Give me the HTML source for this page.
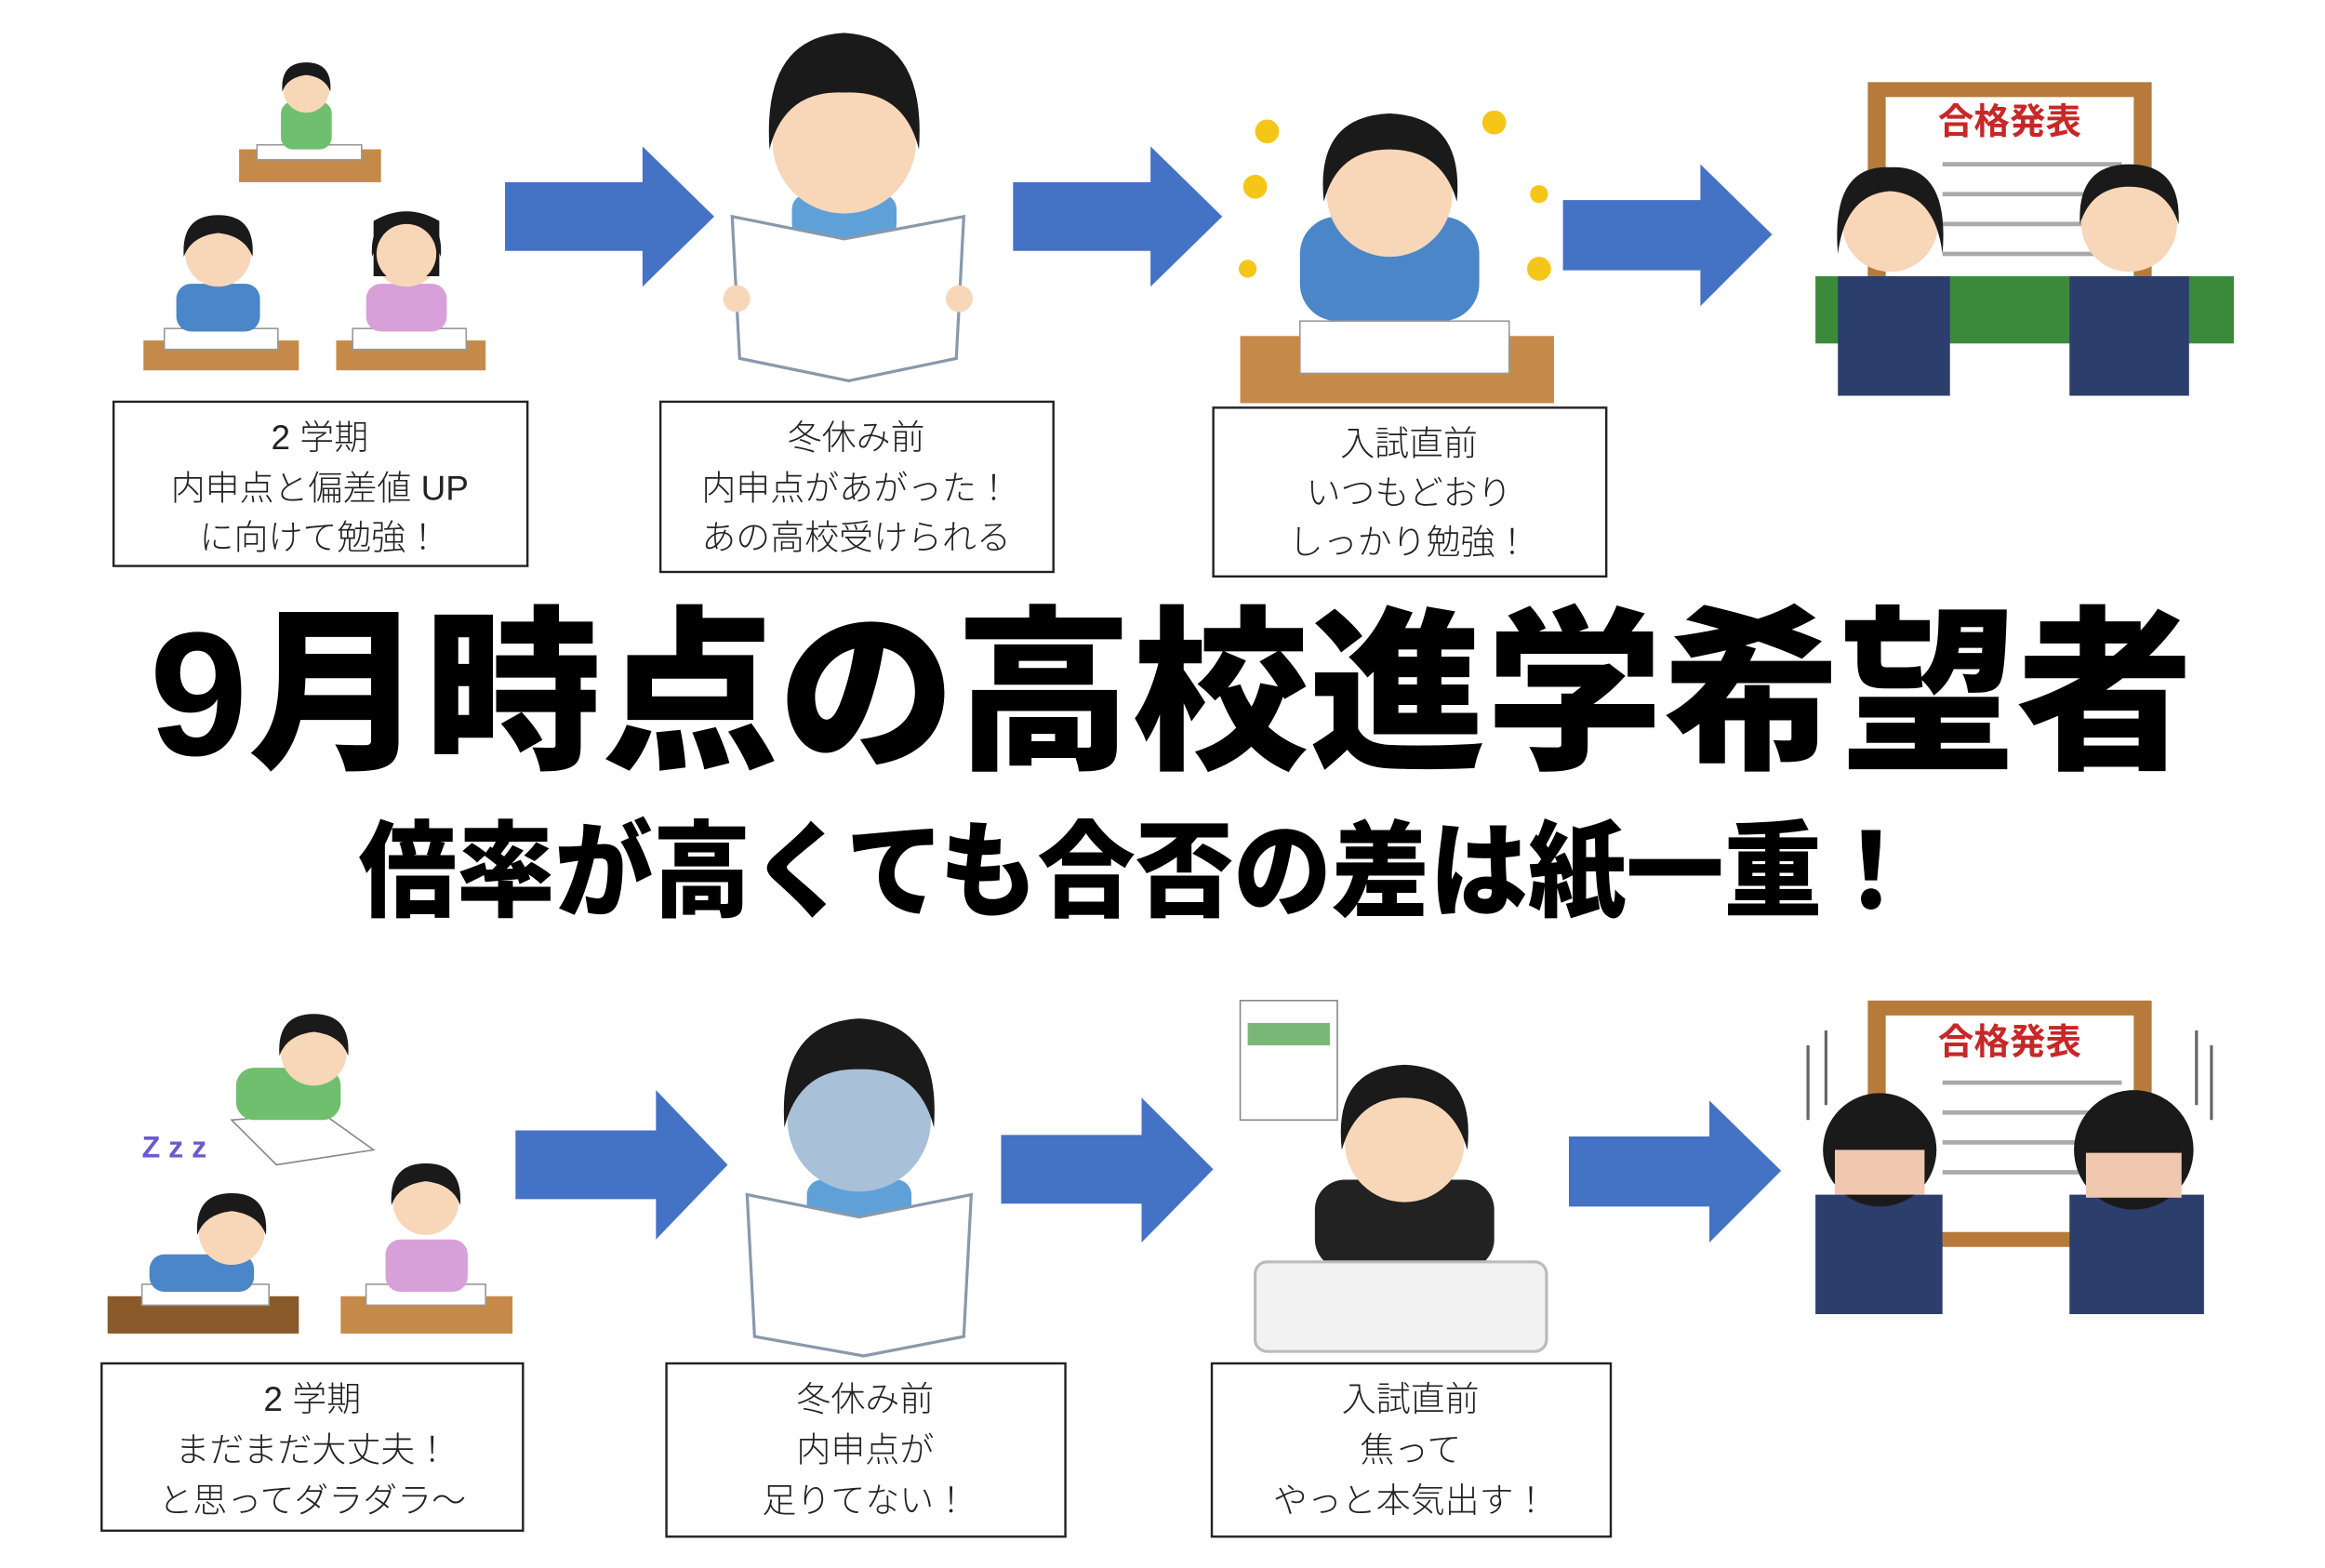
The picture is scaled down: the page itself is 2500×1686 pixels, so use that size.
<!DOCTYPE html>
<html><head><meta charset="utf-8"><style>
html,body{margin:0;padding:0;background:#fff;width:2500px;height:1686px;overflow:hidden}
svg{display:block}
.bt{font-family:"Liberation Sans","Noto Sans CJK JP",sans-serif;font-size:23px;fill:#222;text-anchor:middle;dominant-baseline:central;font-weight:300}
.tt{font-family:"Liberation Sans","Noto Sans CJK JP",sans-serif;font-weight:900;fill:#000;dominant-baseline:central}
</style></head><body>
<svg width="2500" height="1686" viewBox="0 0 1556 1050" preserveAspectRatio="none" xmlns="http://www.w3.org/2000/svg">
<defs>
<g id="kid"><!-- head at 0,0 -->
<circle cx="0" cy="0" r="22" fill="#f8d6b8"/>
<path d="M-23,2 Q-25,-26 0,-26 Q25,-26 23,2 Q18,-12 0,-14 Q-18,-12 -23,2Z" fill="#1a1a1a"/>
</g>
</defs>
<rect width="1556" height="1050" fill="#fff"/>

<!-- arrows -->
<g fill="#4472c4">
<path d="M338,122 H430 V98 L478,145 L430,192 V168 H338Z"/>
<path d="M678,122 H770 V98 L818,145 L770,192 V168 H678Z"/>
<path d="M1046,134 H1138 V110 L1186,157 L1138,205 V181 H1046Z"/>
<path d="M345,757 H439 V730 L487,780 L439,830 V803 H345Z"/>
<path d="M670,760 H764 V735 L812,783 L764,832 V806 H670Z"/>
<path d="M1050,761 H1144 V737 L1192,784 L1144,832 V808 H1050Z"/>
</g>

<!-- TOP illustrations -->
<!-- group1 -->
<rect x="160" y="100" width="95" height="22" fill="#c58a4a"/><rect x="172" y="97" width="70" height="10" fill="#fff" stroke="#999"/>
<rect x="188" y="68" width="34" height="32" rx="8" fill="#6fbf6f"/><use href="#kid" transform="translate(205,60) scale(0.7)"/>
<rect x="96" y="228" width="104" height="20" fill="#c58a4a"/><rect x="110" y="220" width="76" height="14" fill="#fff" stroke="#999"/>
<rect x="118" y="190" width="56" height="32" rx="10" fill="#4a86c8"/><use href="#kid" transform="translate(146,170)"/>
<rect x="225" y="228" width="100" height="20" fill="#c58a4a"/><rect x="236" y="220" width="76" height="14" fill="#fff" stroke="#999"/>
<rect x="245" y="190" width="54" height="32" rx="10" fill="#d8a0d8"/><use href="#kid" transform="translate(272,170)"/>
<path d="M250,148 Q272,135 294,148 V185 H250Z" fill="#1a1a1a"/><circle cx="272" cy="170" r="20" fill="#f8d6b8"/>
<!-- boy reading -->
<rect x="530" y="130" width="70" height="30" rx="10" fill="#5fa0d8"/>
<circle cx="565" cy="95" r="48" fill="#f8d6b8"/>
<path d="M515,100 Q510,25 565,22 Q620,25 615,100 Q605,60 565,62 Q525,60 515,100Z" fill="#1a1a1a"/>
<path d="M490,145 L565,160 L645,145 L640,240 L568,255 L495,240Z" fill="#fff" stroke="#8899aa" stroke-width="2"/>
<circle cx="493" cy="200" r="9" fill="#f8d6b8"/><circle cx="642" cy="200" r="9" fill="#f8d6b8"/>
<!-- boy studying -->
<rect x="870" y="145" width="120" height="70" rx="25" fill="#4a86c8"/>
<circle cx="930" cy="130" r="42" fill="#f8d6b8"/>
<path d="M886,135 Q880,78 930,76 Q980,78 975,135 Q965,100 930,100 Q895,100 886,135Z" fill="#1a1a1a"/>
<rect x="830" y="225" width="210" height="45" fill="#c58a4a"/><rect x="870" y="215" width="140" height="35" fill="#fff" stroke="#999"/>
<g fill="#f5c518"><circle cx="848" cy="88" r="8"/><circle cx="1000" cy="82" r="8"/><circle cx="840" cy="125" r="8"/><circle cx="1030" cy="130" r="6"/><circle cx="1030" cy="180" r="8"/><circle cx="835" cy="180" r="6"/></g>
<!-- board + students -->
<rect x="1250" y="55" width="190" height="160" fill="#b77a3a"/><rect x="1262" y="65" width="166" height="140" fill="#fff"/>
<text x="1345" y="82" font-family="Liberation Sans,Noto Sans CJK JP,sans-serif" font-size="24" font-weight="700" fill="#c62828" text-anchor="middle" dominant-baseline="central">合格発表</text>
<g stroke="#aaa" stroke-width="3"><line x1="1300" y1="110" x2="1420" y2="110"/><line x1="1300" y1="130" x2="1420" y2="130"/><line x1="1300" y1="150" x2="1420" y2="150"/><line x1="1300" y1="170" x2="1420" y2="170"/><line x1="1300" y1="190" x2="1420" y2="190"/></g>
<rect x="1215" y="185" width="280" height="45" fill="#3a8a3a"/>
<rect x="1230" y="185" width="75" height="80" fill="#2c3e6b"/><circle cx="1265" cy="150" r="32" fill="#f8d6b8"/>
<path d="M1230,170 Q1225,110 1265,112 Q1305,110 1300,170 Q1295,130 1265,128 Q1235,130 1230,170Z" fill="#1a1a1a"/>
<rect x="1385" y="185" width="80" height="80" fill="#2c3e6b"/><circle cx="1425" cy="150" r="32" fill="#f8d6b8"/>
<path d="M1392,150 Q1390,110 1425,110 Q1460,110 1458,150 Q1450,125 1425,125 Q1400,125 1392,150Z" fill="#1a1a1a"/>

<!-- BOTTOM illustrations -->
<path d="M155,750 L215,745 L250,770 L185,780Z" fill="#fff" stroke="#888"/>
<rect x="158" y="715" width="70" height="35" rx="12" fill="#6fbf6f"/><use href="#kid" transform="translate(210,705)"/>
<rect x="72" y="868" width="128" height="25" fill="#8a5a2a"/><rect x="95" y="860" width="85" height="14" fill="#fff" stroke="#999"/>
<rect x="100" y="840" width="70" height="25" rx="10" fill="#4a86c8"/><use href="#kid" transform="translate(155,825)"/>
<rect x="228" y="868" width="115" height="25" fill="#c58a4a"/><rect x="245" y="860" width="80" height="14" fill="#fff" stroke="#999"/>
<rect x="258" y="830" width="55" height="35" rx="10" fill="#d8a0d8"/><use href="#kid" transform="translate(285,805)"/>
<text x="95" y="775" font-size="20" fill="#6a5acd" font-family="Liberation Sans,sans-serif" font-weight="700">Z z z</text>
<rect x="540" y="790" width="70" height="30" rx="10" fill="#5fa0d8"/>
<circle cx="575" cy="750" r="48" fill="#a8c0d8"/>
<path d="M525,755 Q520,685 575,682 Q630,685 625,755 Q615,715 575,716 Q535,715 525,755Z" fill="#1a1a1a"/>
<path d="M500,800 L575,815 L650,800 L645,895 L578,908 L505,895Z" fill="#fff" stroke="#8899aa" stroke-width="2"/>
<rect x="830" y="670" width="65" height="80" fill="#fff" stroke="#888"/><rect x="835" y="685" width="55" height="15" fill="#7ab87a"/>
<rect x="880" y="790" width="120" height="60" rx="20" fill="#222"/>
<circle cx="940" cy="765" r="40" fill="#f8d6b8"/>
<path d="M898,770 Q892,715 940,713 Q988,715 982,770 Q972,735 940,735 Q908,735 898,770Z" fill="#1a1a1a"/>
<rect x="840" y="845" width="195" height="60" rx="8" fill="#f2f2f2" stroke="#bbb" stroke-width="2"/>
<rect x="1250" y="670" width="190" height="165" fill="#b77a3a"/><rect x="1262" y="680" width="166" height="145" fill="#fff"/>
<text x="1345" y="698" font-family="Liberation Sans,Noto Sans CJK JP,sans-serif" font-size="24" font-weight="700" fill="#c62828" text-anchor="middle" dominant-baseline="central">合格発表</text>
<g stroke="#aaa" stroke-width="3"><line x1="1300" y1="725" x2="1420" y2="725"/><line x1="1300" y1="745" x2="1420" y2="745"/><line x1="1300" y1="765" x2="1420" y2="765"/><line x1="1300" y1="785" x2="1420" y2="785"/></g>
<rect x="1215" y="800" width="85" height="80" fill="#2c3e6b"/><circle cx="1258" cy="770" r="38" fill="#1a1a1a"/><rect x="1228" y="770" width="60" height="30" fill="#f0c8b0"/>
<rect x="1385" y="800" width="90" height="80" fill="#2c3e6b"/><circle cx="1428" cy="770" r="40" fill="#1a1a1a"/><rect x="1396" y="772" width="64" height="30" fill="#f0c8b0"/>
<g stroke="#666" stroke-width="2"><line x1="1210" y1="700" x2="1210" y2="750"/><line x1="1222" y1="690" x2="1222" y2="740"/><line x1="1470" y1="690" x2="1470" y2="740"/><line x1="1480" y1="700" x2="1480" y2="750"/></g>

<!-- boxes -->
<g fill="#fff" stroke="#222" stroke-width="1.5">
<rect x="76" y="269" width="277" height="110"/>
<rect x="442" y="269" width="263" height="114"/>
<rect x="812" y="273" width="263" height="113"/>
<rect x="68" y="913" width="282" height="112"/>
<rect x="446" y="913" width="267" height="116"/>
<rect x="811" y="913" width="267" height="116"/>
</g>
<text class="bt" x="214" y="293">2 学期</text>
<text class="bt" x="214" y="327">内申点と偏差値 UP</text>
<text class="bt" x="214" y="360">に向けて勉強！</text>
<text class="bt" x="573" y="293">冬休み前</text>
<text class="bt" x="573" y="327">内申点があがった！</text>
<text class="bt" x="573" y="360">あの高校受けられる</text>
<text class="bt" x="943" y="297">入試直前</text>
<text class="bt" x="943" y="330">いつもどおり</text>
<text class="bt" x="943" y="363">しっかり勉強！</text>
<text class="bt" x="209" y="937">2 学期</text>
<text class="bt" x="209" y="971">まだまだ大丈夫！</text>
<text class="bt" x="209" y="1005">と思ってダラダラ～</text>
<text class="bt" x="579" y="937">冬休み前</text>
<text class="bt" x="579" y="971">内申点が</text>
<text class="bt" x="579" y="1005">足りてない！</text>
<text class="bt" x="944" y="937">入試直前</text>
<text class="bt" x="944" y="971">焦って</text>
<text class="bt" x="944" y="1005">やっと本気出す！</text>

<!-- titles -->
<text class="tt" x="100" y="465" font-size="118" textLength="1368" lengthAdjust="spacingAndGlyphs">9月時点の高校進学希望者</text>
<text class="tt" x="240" y="584" font-size="70" textLength="1045" lengthAdjust="spacingAndGlyphs">倍率が高くても合否の差は紙一重！</text>
</svg>
</body></html>
